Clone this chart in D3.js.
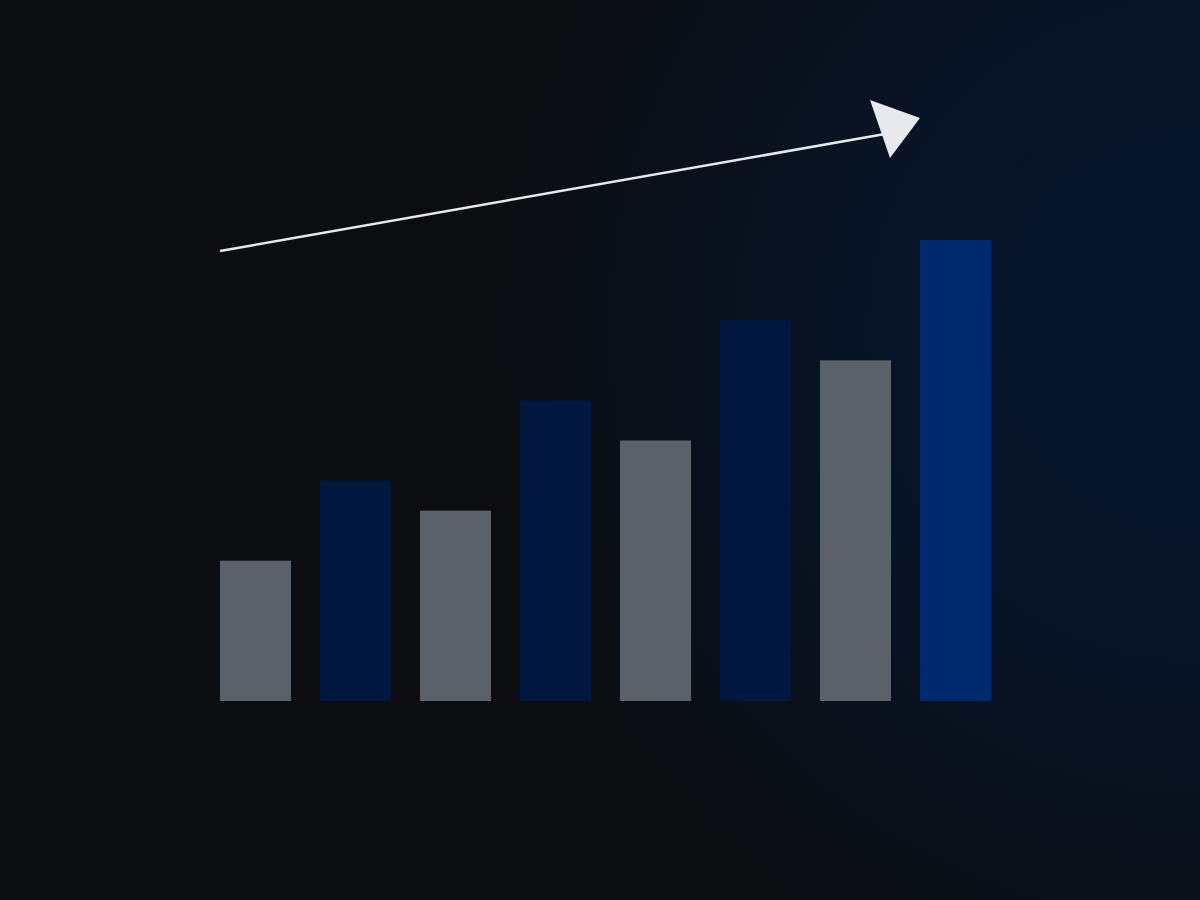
<!DOCTYPE html>
<html lang="en">
<head>
    <meta charset="UTF-8">
    <title>Growth Bars</title>
    <style>
        html, body { margin: 0; padding: 0; background: #0b0d10; }
        svg { display: block; }
    </style>
</head>
<body>
    <svg width="1200" height="900"></svg>
    <script src="https://d3js.org/d3.v7.min.js"></script>
    <script>

        // Data
        const categories = ['1', '2', '3', '4', '5', '6', '7', '8'];
        const values = [14, 22, 19, 30, 26, 38, 34, 46];
        const kinds = ['gray', 'navy', 'gray', 'navy', 'gray', 'navy', 'gray', 'blue'];

        const colorOf = { gray: '#5a6168', navy: '#001840', blue: '#002a70' };

        const svg = d3.select('svg');
        const width = +svg.attr('width');
        const height = +svg.attr('height');

        // Background with soft blue glow on the right
        const defs = svg.append('defs');
        const glow = defs.append('radialGradient')
            .attr('id', 'glow')
            .attr('gradientUnits', 'userSpaceOnUse')
            .attr('cx', 1200).attr('cy', 330).attr('r', 720);
        glow.append('stop').attr('offset', '0%').attr('stop-color', '#06162d');
        glow.append('stop').attr('offset', '45%').attr('stop-color', '#081427');
        glow.append('stop').attr('offset', '100%').attr('stop-color', '#0b0d10');

        svg.append('rect')
            .attr('width', width).attr('height', height)
            .attr('fill', '#0b0d10');
        svg.append('rect')
            .attr('width', width).attr('height', height)
            .attr('fill', 'url(#glow)');

        // Scales
        const xScale = d3.scaleBand()
            .domain(categories)
            .range([220, 991])
            .paddingInner(0.29)
            .paddingOuter(0);

        const yScale = d3.scaleLinear()
            .domain([0, 50])
            .range([701, 200]);

        // Bars
        svg.append('g')
            .selectAll('rect')
            .data(values)
            .enter()
            .append('rect')
            .attr('x', (d, i) => xScale(categories[i]))
            .attr('y', d => yScale(d))
            .attr('width', xScale.bandwidth())
            .attr('height', d => yScale(0) - yScale(d))
            .attr('fill', (d, i) => colorOf[kinds[i]]);

        // Trend arrow
        const arrowColor = '#e8e9ec';
        const x0 = xScale(categories[0]);
        const x1 = xScale(categories[categories.length - 1]);

        svg.append('line')
            .attr('x1', x0).attr('y1', 251)
            .attr('x2', x1 - 35).attr('y2', 134)
            .attr('stroke', arrowColor)
            .attr('stroke-width', 2.5);

        svg.append('polygon')
            .attr('points', [[x1 - 50, 100], [x1, 118], [x1 - 30, 158]].map(p => p.join(',')).join(' '))
            .attr('fill', arrowColor);

    </script>
</body>
</html>
